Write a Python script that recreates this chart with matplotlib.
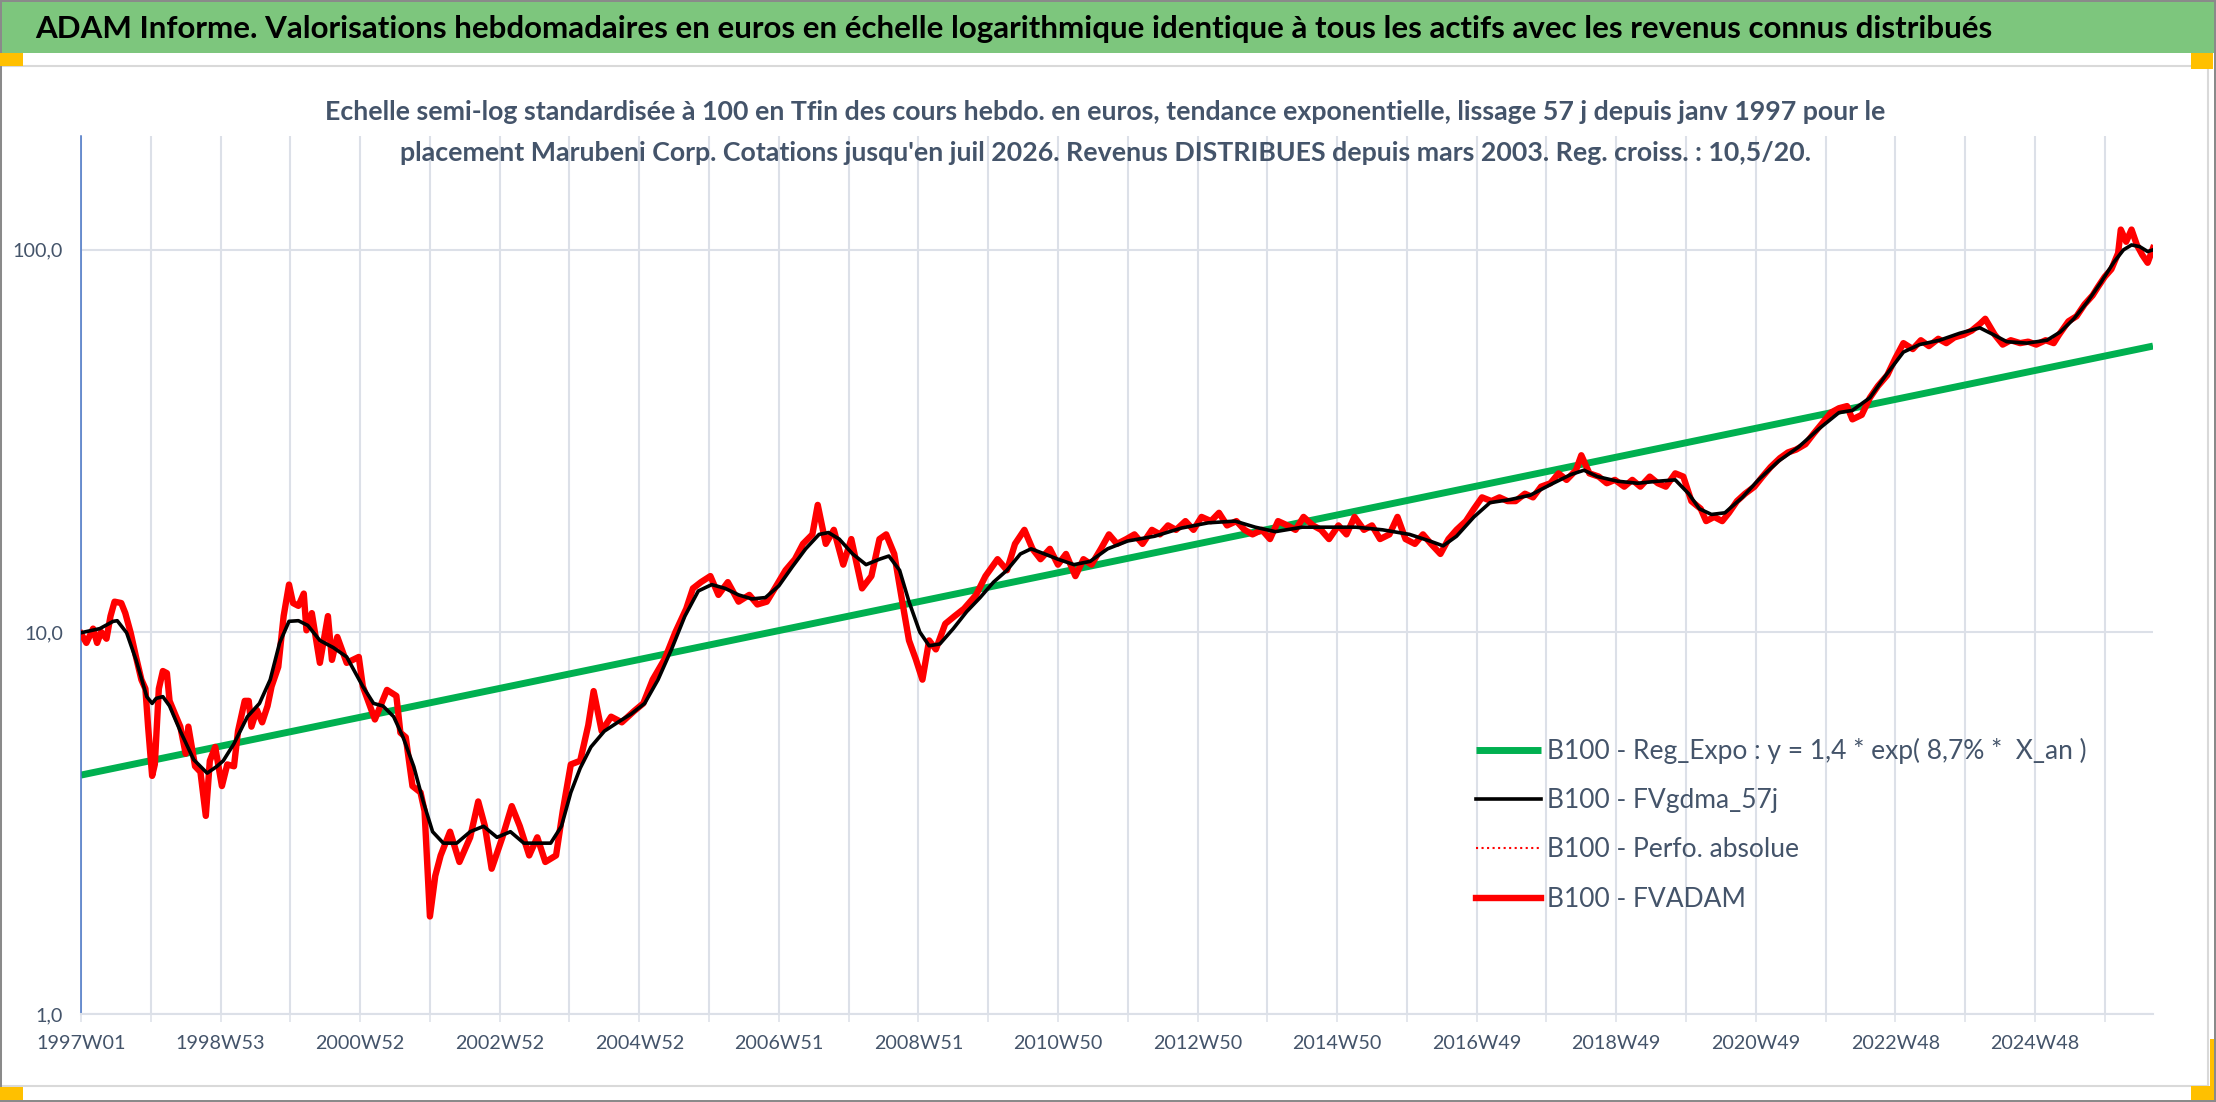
import matplotlib
matplotlib.use("Agg")
import matplotlib.pyplot as plt
from matplotlib.patches import Rectangle
from matplotlib.ticker import FixedLocator, NullLocator

# ---- données (index de semaine depuis 1997W01, valeur base 100) ----
x_labels = ['1997W01', '1998W53', '2000W52', '2002W52', '2004W52', '2006W51', '2008W51',
            '2010W50', '2012W50', '2014W50', '2016W49', '2018W49', '2020W49', '2022W48', '2024W48']

# B100 - FVADAM (rouge)
fvadam_idx = [0, 4, 9, 12, 15, 19, 22, 25, 30, 33, 37, 41, 45, 48, 50, 53, 55, 58, 61, 64, 66, 70,
              74, 78, 80, 85, 89, 93, 96, 100, 105, 109, 114, 117, 122, 125, 127, 131, 135, 139, 142,
              147, 151, 155, 158, 162, 166, 168, 172, 178, 184, 187, 191, 198, 207, 210, 219, 228,
              235, 238, 242, 247, 253, 256, 260, 264, 268, 275, 282, 290, 296, 301, 306, 314, 321,
              327, 334, 340, 346, 354, 359, 365, 372, 378, 382, 388, 395, 403, 412, 419, 426, 435,
              443, 451, 456, 462, 469, 475, 482, 490, 498, 504, 511, 517, 525, 532, 538, 545, 549,
              555, 561, 568, 574, 582, 589, 595, 600, 606, 612, 617, 622, 627, 632, 637, 644, 651,
              658, 667, 674, 683, 690, 696, 703, 709, 715, 722, 728, 734, 741, 747, 753, 760, 766,
              772, 779, 785, 791, 798, 804, 810, 816, 823, 829, 835, 842, 848, 854, 861, 867, 873,
              880, 886, 892, 899, 905, 911, 918, 924, 930, 937, 943, 949, 956, 962, 968, 975, 981,
              987, 994, 1000, 1006, 1013, 1019, 1025, 1032, 1038, 1044, 1051, 1057, 1063, 1069,
              1076, 1082, 1088, 1095, 1101, 1107, 1114, 1118, 1124, 1131, 1137, 1143, 1150, 1156,
              1162, 1169, 1175, 1181, 1188, 1194, 1200, 1207, 1211, 1217, 1223, 1228, 1234, 1240,
              1247, 1253, 1259, 1266, 1272, 1278, 1285, 1291, 1297, 1304, 1310, 1316, 1320, 1327,
              1333, 1339, 1346, 1352, 1358, 1365, 1371, 1377, 1384, 1390, 1396, 1403, 1409, 1415,
              1419, 1426, 1432, 1438, 1445, 1451, 1457, 1464, 1470, 1474, 1481, 1487, 1493, 1499,
              1503, 1508, 1513, 1518, 1520, 1524, 1528, 1532, 1536, 1540, 1544]
fvadam_val = [9.9, 9.36, 10.2, 9.36, 10.0, 9.6, 11.0, 12.0, 11.9, 11.2, 9.95, 8.6, 7.5, 7.1, 5.65,
              4.2, 4.5, 7.1, 7.9, 7.8, 6.6, 6.1, 5.65, 4.8, 5.65, 4.45, 4.3, 3.3, 4.6, 5.0, 3.95,
              4.5, 4.45, 5.5, 6.6, 6.6, 5.65, 6.25, 5.8, 6.4, 7.2, 8.1, 11.0, 13.3, 11.9, 11.7,
              12.6, 10.1, 11.2, 8.3, 11.0, 8.45, 9.7, 8.3, 8.6, 7.2, 5.9, 7.05, 6.8, 5.45, 5.3,
              3.95, 3.8, 3.4, 1.8, 2.3, 2.6, 3.0, 2.5, 2.9, 3.6, 3.1, 2.4, 2.9, 3.5, 3.1, 2.6, 2.9,
              2.5, 2.6, 3.4, 4.5, 4.6, 5.7, 7.0, 5.5, 6.0, 5.8, 6.2, 6.5, 7.5, 8.5, 10.0, 11.5,
              13.0, 13.5, 14.0, 12.5, 13.5, 12.0, 12.5, 11.8, 12.0, 13.0, 14.5, 15.5, 17.0, 18.0,
              21.5, 17.0, 18.5, 15.0, 17.5, 13.0, 14.0, 17.5, 18.0, 16.0, 12.0, 9.5, 8.5, 7.5, 9.5,
              9.0, 10.5, 11.0, 11.5, 12.5, 14.0, 15.5, 14.5, 17.0, 18.5, 16.5, 15.5, 16.5, 15.0,
              16.0, 14.0, 15.5, 15.0, 16.5, 18.0, 17.0, 17.5, 18.0, 17.0, 18.5, 18.0, 19.0, 18.5,
              19.5, 18.5, 20.0, 19.5, 20.5, 19.0, 19.5, 18.5, 18.0, 18.5, 17.5, 19.5, 19.0, 18.5,
              20.0, 19.0, 18.5, 17.5, 19.0, 18.0, 20.0, 18.5, 19.0, 17.5, 18.0, 20.0, 17.5, 17.0,
              18.0, 17.0, 16.0, 17.5, 18.5, 19.5, 21.0, 22.5, 22.0, 22.5, 22.0, 22.0, 23.0, 22.5,
              24.0, 24.5, 26.0, 25.0, 26.5, 29.0, 26.0, 25.5, 24.5, 25.0, 24.0, 25.0, 24.0, 25.5,
              24.5, 24.0, 26.0, 25.5, 22.0, 21.0, 19.5, 20.0, 19.5, 20.5, 22.0, 23.0, 24.0, 25.5,
              27.0, 28.5, 29.5, 30.0, 31.0, 33.0, 35.0, 37.5, 38.5, 39.0, 36.0, 37.0, 41.0, 44.0,
              47.0, 52.0, 57.0, 55.0, 58.0, 56.0, 58.5, 57.0, 59.0, 60.0, 61.5, 64.0, 66.0, 60.0,
              56.5, 58.0, 57.0, 57.5, 56.5, 58.0, 57.0, 60.0, 65.0, 67.0, 72.0, 76.0, 80.0, 85.0,
              89.0, 98.0, 113.0, 105.0, 113.0, 103.0, 97.0, 92.5, 101.0]

# B100 - FVgdma_57j (noir, lissage)
gdma_idx = [0, 14, 24, 27, 34, 41, 49, 53, 56, 61, 66, 74, 84, 94, 101, 106, 114, 124, 133, 141,
            148, 155, 162, 169, 178, 188, 198, 210, 218, 225, 233, 240, 248, 255, 262, 270, 280,
            290, 300, 310, 320, 330, 340, 350, 358, 365, 372, 380, 390, 400, 410, 420, 430, 440,
            450, 460, 470, 480, 490, 500, 510, 520, 530, 540, 550, 557, 565, 575, 585, 595, 602,
            610, 617, 625, 632, 640, 650, 660, 670, 680, 690, 700, 708, 718, 728, 740, 752, 765,
            780, 800, 820, 840, 860, 875, 890, 910, 930, 950, 970, 990, 1005, 1015, 1025, 1038,
            1050, 1065, 1080, 1095, 1110, 1120, 1130, 1145, 1160, 1175, 1188, 1198, 1206, 1215,
            1225, 1238, 1250, 1265, 1280, 1295, 1310, 1320, 1333, 1345, 1358, 1370, 1385, 1400,
            1415, 1425, 1435, 1450, 1465, 1475, 1485, 1495, 1505, 1515, 1522, 1528, 1534, 1540,
            1544]
gdma_val = [9.95, 10.2, 10.66, 10.7, 9.95, 8.45, 6.77, 6.5, 6.7, 6.77, 6.4, 5.5, 4.63, 4.27,
            4.44, 4.6, 5.1, 6.0, 6.5, 7.5, 9.36, 10.66, 10.7, 10.4, 9.5, 9.1, 8.6, 7.2, 6.5, 6.4,
            6.0, 5.3, 4.44, 3.6, 3.0, 2.8, 2.8, 3.0, 3.1, 2.9, 3.0, 2.8, 2.8, 2.8, 3.1, 3.8, 4.4,
            5.0, 5.5, 5.8, 6.1, 6.5, 7.5, 9.0, 11.0, 12.8, 13.3, 13.0, 12.5, 12.2, 12.3, 13.2,
            14.8, 16.5, 18.0, 18.2, 17.5, 16.0, 15.0, 15.5, 15.8, 14.5, 12.0, 10.0, 9.2, 9.3,
            10.2, 11.3, 12.3, 13.5, 14.5, 16.0, 16.5, 16.0, 15.5, 15.0, 15.3, 16.5, 17.3, 17.8,
            18.7, 19.3, 19.5, 18.8, 18.3, 18.8, 18.8, 18.8, 18.5, 18.0, 17.3, 16.8, 17.8, 20.0,
            21.8, 22.2, 22.8, 24.3, 25.8, 26.5, 25.5, 24.8, 24.5, 24.8, 25.0, 23.0, 21.0, 20.3,
            20.5, 22.5, 25.0, 28.0, 30.5, 34.0, 37.5, 38.0, 41.0, 47.0, 54.0, 56.5, 58.0, 60.5,
            62.5, 60.0, 57.5, 57.0, 58.0, 61.0, 66.0, 73.0, 82.0, 93.0, 100.0, 103.0, 102.0,
            99.0, 100.0]

# B100 - Reg_Expo (vert) : droite en semi-log, extrémités lues
reg_idx = [0, 1544]
reg_val = [4.22, 56.0]

# B100 - Perfo. absolue (pointillé rouge, confondue avec FVADAM)
perf_idx = fvadam_idx
perf_val = fvadam_val

legend_labels = ['B100 - Reg_Expo : y = 1,4 * exp( 8,7% *  X_an )', 'B100 - FVgdma_57j',
                 'B100 - Perfo. absolue', 'B100 - FVADAM']

title = ("ADAM Informe. Valorisations hebdomadaires en euros en échelle logarithmique "
         "identique à tous les actifs avec les revenus connus distribués")
sub1 = ("Echelle semi-log standardisée à 100 en Tfin des cours hebdo. en euros, tendance "
        "exponentielle, lissage 57 j depuis janv 1997 pour le")
sub2 = ("placement Marubeni Corp. Cotations jusqu'en juil 2026. Revenus DISTRIBUES depuis "
        "mars 2003. Reg. croiss. : 10,5/20.")

# ---- mise en page ----
W, H = 2216, 1102
FONT = 'Lato'
TXT = '#44546A'
GRID = '#DCE0E8'

fig = plt.figure(figsize=(W / 100, H / 100), dpi=100)
fig.patch.set_facecolor('white')
renderer = fig.canvas.get_renderer()


def fx(x):
    return x / W


def fy(y):
    return 1 - y / H


def size_for(s, width_px, weight='normal'):
    t = fig.text(0, 0, s, fontsize=20, family=FONT, weight=weight)
    w = t.get_window_extent(renderer=renderer).width
    t.remove()
    return 20 * width_px / w


def rect(x0, y0, x1, y1, z=-5, **kw):
    fig.patches.append(Rectangle((fx(x0), fy(y1)), fx(x1) - fx(x0), fy(y0) - fy(y1),
                                 transform=fig.transFigure, figure=fig, zorder=z, **kw))


# bandeau vert + cadre du graphique
rect(0, 0, W, 53, facecolor='#7DC67D', edgecolor='none')
rect(0, 0, W, 1.5, facecolor='#8A8A8A', edgecolor='none')
rect(1, 66, 2208, 1086, z=-6, facecolor='white', edgecolor='#D9D9D9', lw=1.5)
rect(0, 0, 1.5, H, facecolor='#8A8A8A', edgecolor='none')
rect(0, H - 2, W, H, facecolor='#8A8A8A', edgecolor='none')
rect(W - 2, 0, W, H, facecolor='#8A8A8A', edgecolor='none')
for (a, b, c, d) in [(0, 53, 23, 66), (2191, 53, 2213, 69), (0, 1087, 23, 1100),
                     (2191, 1086, 2211, 1100), (2210, 1039, 2214, 1100)]:
    rect(a, b, c, d, facecolor='#FFC000', edgecolor='none')

fig.text(fx(35), fy(29), title, ha='left', va='center', family=FONT, weight='bold',
         color='black', fontsize=size_for(title, 1954, 'bold'))
fs_sub = size_for(sub1, 1565, 'bold')
fig.text(fx(1105), fy(112), sub1, ha='center', va='center', family=FONT, weight='bold',
         color=TXT, fontsize=fs_sub)
fig.text(fx(1105), fy(153), sub2, ha='center', va='center', family=FONT, weight='bold',
         color=TXT, fontsize=fs_sub)

ax = fig.add_axes([fx(81), fy(1014), fx(2153) - fx(81), fy(136) - fy(1014)])
ax.set_facecolor('none')

ax.plot(reg_idx, reg_val, color='#00B050', lw=5.0, solid_capstyle='butt', zorder=2,
        label=legend_labels[0])
ax.plot(perf_idx, perf_val, color='#FF0000', lw=1.5, ls=':', zorder=2.5, label=legend_labels[2])
ax.plot(fvadam_idx, fvadam_val, color='#FF0000', lw=4.6, zorder=3, label=legend_labels[3])
ax.plot(gdma_idx, gdma_val, color='black', lw=2.6, zorder=4, label=legend_labels[1])

ax.set_yscale('log')
ax.set_ylim(1, 198.6)
ax.set_xlim(0, 1544)
ax.yaxis.set_major_locator(FixedLocator([1, 10, 100]))
ax.yaxis.set_minor_locator(NullLocator())
ax.set_yticklabels(['1,0', '10,0', '100,0'])

ticks = list(range(0, 1545, 52))
ax.set_xticks(ticks)
ax.set_xticklabels([x_labels[i // 2] if i % 2 == 0 else '' for i in range(len(ticks))])

ax.grid(True, color=GRID, lw=1.5, zorder=0)
ax.set_axisbelow(True)
for s in ['top', 'right']:
    ax.spines[s].set_visible(False)
ax.spines['bottom'].set_color(GRID)
ax.spines['bottom'].set_linewidth(1.5)
ax.spines['left'].set_color('#4472C4')
ax.spines['left'].set_linewidth(1.1)

fs_tick = size_for('1997W01', 84) * 1.06
ax.tick_params(axis='x', length=5.8, width=1.1, color=GRID, pad=9, labelcolor=TXT,
               labelsize=fs_tick)
ax.tick_params(axis='y', length=0, pad=13, labelcolor=TXT, labelsize=fs_tick)
for lab in ax.get_xticklabels() + ax.get_yticklabels():
    lab.set_family(FONT)

# légende
fs_leg = size_for(legend_labels[0], 540)
fs_px = fs_leg * 100 / 72
h = ax.get_legend_handles_labels()
order = [0, 3, 1, 2]
hs = [h[0][i] for i in order]
ls = [h[1][i] for i in order]
leg = ax.legend(hs, ls, loc='upper left', bbox_to_anchor=(fx(1476), fy(754 - 0.62 * fs_px)),
                bbox_transform=fig.transFigure, frameon=False, borderpad=0, borderaxespad=0,
                handlelength=65 / fs_px, handletextpad=6 / fs_px,
                labelspacing=(56 - 1.2 * fs_px) / fs_px,
                prop={'family': FONT, 'size': fs_leg})
for t in leg.get_texts():
    t.set_color(TXT)

fig.savefig('out.png', dpi=100)
